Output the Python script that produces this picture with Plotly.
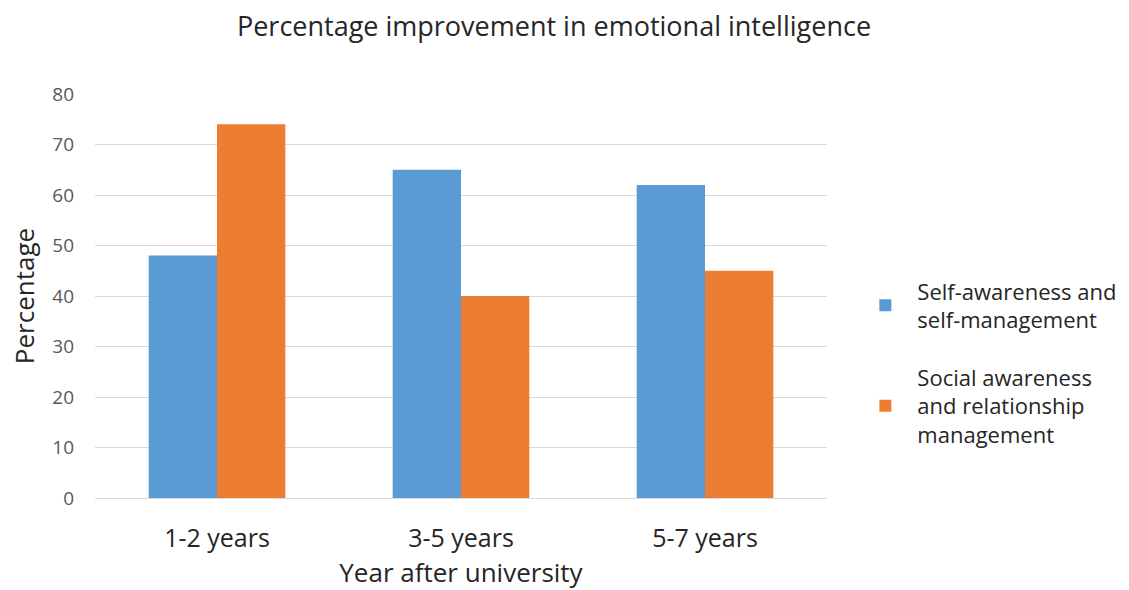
import plotly.graph_objects as go

categories = ["1-2 years", "3-5 years", "5-7 years"]
self_awareness = [48, 65, 62]
social_awareness = [74, 40, 45]
series_names = ["Self-awareness and<br>self-management",
                "Social awareness<br>and relationship<br>management"]
colors = ["#5B9BD5", "#ED7D31"]
y_ticks = [0, 10, 20, 30, 40, 50, 60, 70, 80]

FONT = "Open Sans, Noto Sans, sans-serif"

fig = go.Figure()
fig.add_trace(go.Bar(x=categories, y=self_awareness, name=series_names[0],
                     legendgroup="g1",
                     marker=dict(color=colors[0], line=dict(width=0))))
fig.add_trace(go.Bar(x=categories, y=social_awareness, name=series_names[1],
                     legendgroup="g2",
                     marker=dict(color=colors[1], line=dict(width=0))))

fig.update_layout(
    width=1129, height=590,
    margin=dict(l=95, r=302, t=94, b=92, autoexpand=False),
    paper_bgcolor="white", plot_bgcolor="white",
    barmode="group", bargap=0.44, bargroupgap=0,
    font=dict(family=FONT, color="#404040"),
    title=dict(text="Percentage improvement in emotional intelligence",
               x=554/1129, xanchor="center", xref="container",
               y=1 - 27/590, yanchor="middle", yref="container",
               font=dict(size=27, color="#262626", family=FONT)),
    legend=dict(x=1.036, xanchor="left", y=0.335, yanchor="middle",
                font=dict(size=22, color="#262626", family=FONT),
                tracegroupgap=26, itemwidth=54, bgcolor="rgba(0,0,0,0)"),
    showlegend=True,
)
fig.update_xaxes(
    showgrid=False, showline=False, zeroline=False, automargin=True,
    tickfont=dict(size=25, color="#262626"), ticks="", ticklabelstandoff=23,
    title=dict(text="Year after university", font=dict(size=26, color="#262626"),
               standoff=6),
)
fig.update_yaxes(
    range=[0, 80], tickvals=y_ticks, showgrid=True, gridcolor="#D9D9D9", gridwidth=1,
    zeroline=True, zerolinecolor="#D9D9D9", zerolinewidth=1, showline=False,
    automargin=False,
    tickfont=dict(size=19, color="#595959"), ticks="", ticklabelstandoff=20,
    title=dict(text="Percentage", font=dict(size=26, color="#262626"), standoff=10),
)

fig.write_html("out.html")
